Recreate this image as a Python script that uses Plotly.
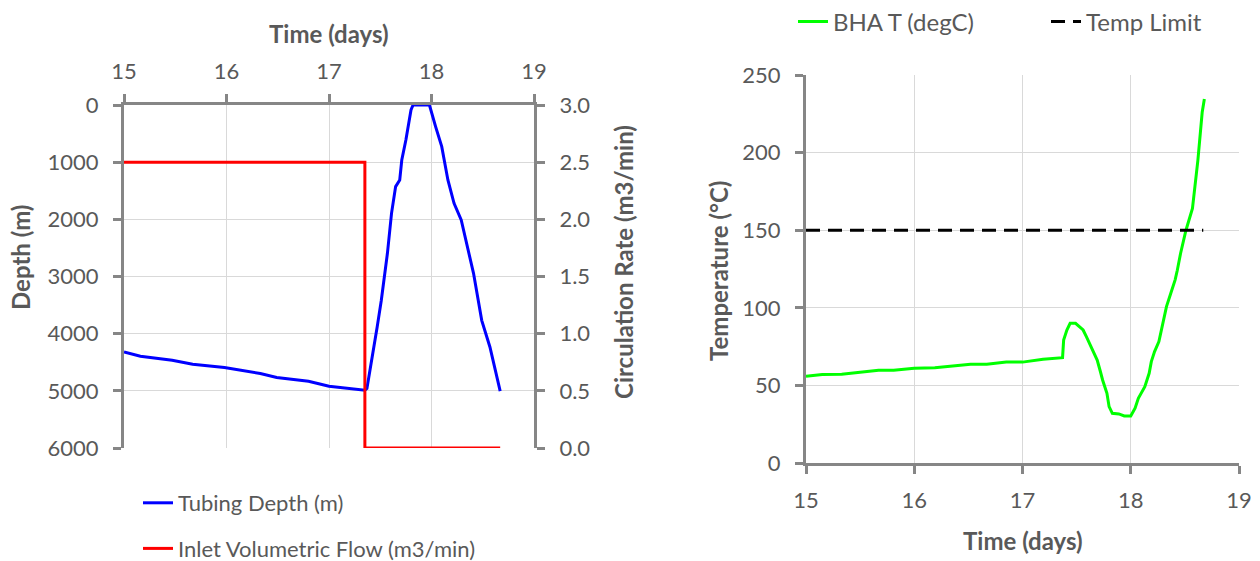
import plotly.graph_objects as go

# Tubing depth vs time
t_depth = [15.00, 15.16, 15.47, 15.67, 15.98, 16.18, 16.33, 16.49, 16.80, 17.00,
           17.20, 17.35, 17.37, 17.39, 17.43, 17.47, 17.51, 17.54, 17.57, 17.61,
           17.65, 17.69, 17.71, 17.75, 17.78, 17.80, 17.82, 17.98, 18.04, 18.10,
           18.16, 18.22, 18.29, 18.35, 18.41, 18.49, 18.57, 18.67]
depth = [4320, 4395, 4465, 4535, 4593, 4657, 4698, 4767, 4831, 4919,
         4959, 4988, 4959, 4756, 4290, 3884, 3419, 3030, 2594, 1895,
         1428, 1312, 962, 612, 262, 87, 0, 0, 379, 729,
         1312, 1720, 2012, 2478, 2945, 3767, 4233, 5006]

# Inlet volumetric flow vs time
t_flow = [15.00, 17.35, 17.35, 18.67]
flow = [2.5, 2.5, 0.0, 0.0]

# Bottom-hole annulus temperature vs time
t_bhat = [15.00, 15.15, 15.33, 15.48, 15.67, 15.81, 16.00, 16.19, 16.33, 16.52,
          16.67, 16.85, 17.00, 17.19, 17.37, 17.38, 17.41, 17.44, 17.49, 17.56,
          17.59, 17.65, 17.69, 17.72, 17.74, 17.78, 17.80, 17.83, 17.89, 17.94,
          18.00, 18.04, 18.07, 18.13, 18.17, 18.19, 18.22, 18.26, 18.30, 18.33,
          18.37, 18.41, 18.43, 18.46, 18.51, 18.57, 18.62, 18.66, 18.68]
bhat = [55.9, 57.0, 57.2, 58.5, 59.8, 59.8, 61.1, 61.3, 62.5, 63.7,
        63.7, 65.0, 65.0, 66.8, 67.9, 79.2, 85.7, 90.0, 90.0, 85.7,
        81.4, 72.8, 66.3, 58.8, 53.5, 44.9, 36.3, 32.0, 31.6, 30.3,
        30.3, 35.3, 41.7, 49.2, 57.8, 65.3, 71.8, 78.2, 90.0, 100.8,
        109.4, 118.0, 124.2, 135.0, 150.0, 164.0, 195.0, 226.0, 234.5]

t_limit = [15.0, 18.67]
temp_limit = [150, 150]

W, H = 1260, 561
FONT = "Lato"
TXT = "#595959"
AX = "#868686"
GRID = "#d9d9d9"

def px(x):
    return x / W

def py(y):
    return (H - y) / H

fig = go.Figure()

line_common = dict(mode="lines", cliponaxis=False)
fig.add_trace(go.Scatter(x=t_depth, y=depth, name="Tubing Depth (m)",
                         line=dict(color="#0000ff", width=3), xaxis="x", yaxis="y",
                         legend="legend", legendgroup="a", **line_common))
fig.add_trace(go.Scatter(x=t_flow, y=flow, name="Inlet Volumetric Flow (m3/min)",
                         line=dict(color="#ff0000", width=3), xaxis="x", yaxis="y2",
                         legend="legend", legendgroup="b", **line_common))
fig.add_trace(go.Scatter(x=t_bhat, y=bhat, name="BHA T (degC)",
                         line=dict(color="#00ff00", width=3), xaxis="x2", yaxis="y3",
                         legend="legend2", **line_common))
fig.add_trace(go.Scatter(x=t_limit, y=temp_limit, name="Temp Limit",
                         line=dict(color="#000000", width=3, dash="14px,8px"),
                         xaxis="x2", yaxis="y3", legend="legend2", **line_common))

tickfont = dict(family=FONT, size=22, color=TXT)
common = dict(showline=True, linecolor=AX, linewidth=3, ticks="outside", ticklen=8,
              tickwidth=3, tickcolor=AX, gridcolor=GRID, gridwidth=1,
              zeroline=False, tickfont=tickfont, automargin=False,
              layer="below traces")

fig.update_layout(
    width=W, height=H,
    margin=dict(l=0, r=0, t=0, b=0, autoexpand=False),
    paper_bgcolor="white", plot_bgcolor="white",
    font=dict(family=FONT, color=TXT),
    xaxis=dict(domain=[px(124), px(534)], range=[15, 19], dtick=1, side="top",
               anchor="y", ticklabelstandoff=6, **common),
    yaxis=dict(domain=[py(448), py(105)], range=[6000, 0], dtick=1000,
               anchor="x", ticklabelstandoff=10, **common),
    yaxis2=dict(domain=[py(448), py(105)], range=[0, 3], dtick=0.5, tickformat=".1f",
                overlaying="y", side="right", anchor="x", showgrid=False,
                ticklabelstandoff=10, **common),
    xaxis2=dict(domain=[px(806), px(1239)], range=[15, 19], dtick=1, anchor="y3",
                ticklabelstandoff=8, **common),
    yaxis3=dict(domain=[py(463), py(75)], range=[0, 250], dtick=50, anchor="x2",
                ticklabelstandoff=10, **common),
    legend=dict(x=px(138), y=py(482), xanchor="left", yanchor="top",
                orientation="v", tracegroupgap=14, bgcolor="rgba(0,0,0,0)",
                font=dict(family=FONT, size=22, color=TXT)),
    legend2=dict(x=px(793), y=py(22), xanchor="left", yanchor="middle",
                 orientation="h", entrywidth=208, bgcolor="rgba(0,0,0,0)",
                 font=dict(family=FONT, size=24, color=TXT)),
    showlegend=True,
)

title_font = dict(family=FONT, size=24, color=TXT, weight="bold")
titles = [
    ("Time (days)", 329, 33, 0),
    ("Depth (m)", 20, 258, -90),
    ("Circulation Rate (m3/min)", 623, 262, -90),
    ("Temperature (°C)", 718, 271, -90),
    ("Time (days)", 1023, 540, 0),
]
for text, cx, cy, ang in titles:
    fig.add_annotation(text=text, x=px(cx), y=py(cy), xref="paper", yref="paper",
                       xanchor="center", yanchor="middle", showarrow=False,
                       textangle=ang, font=title_font)

fig.write_html("out.html")
